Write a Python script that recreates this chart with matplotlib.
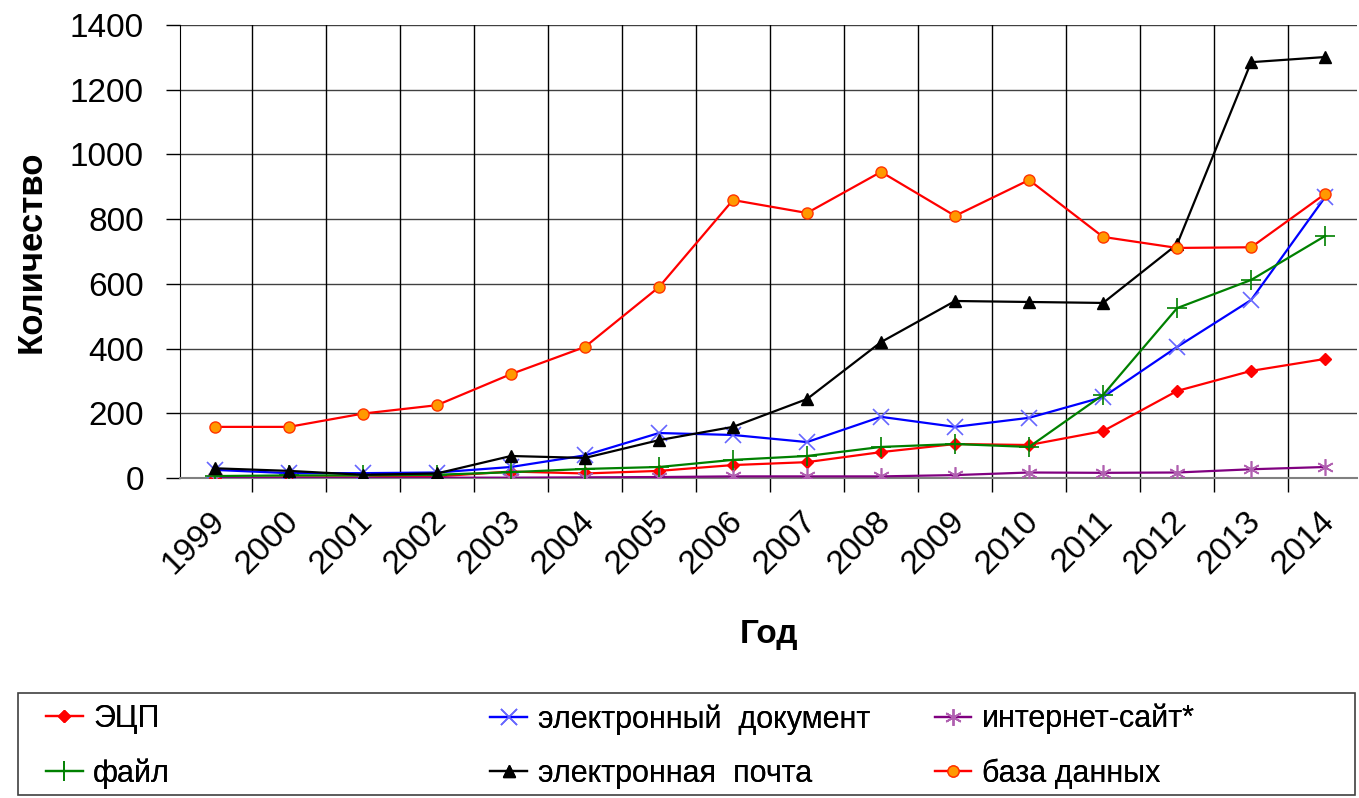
import numpy as np
import matplotlib
matplotlib.use("Agg")
import matplotlib.pyplot as plt
from matplotlib.patches import Rectangle
from matplotlib.transforms import ScaledTranslation

plt.rcParams['font.family'] = ['Liberation Sans', 'DejaVu Sans']

years = ['1999', '2000', '2001', '2002', '2003', '2004', '2005', '2006',
         '2007', '2008', '2009', '2010', '2011', '2012', '2013', '2014']

ecp = [0, 2, 2, 5, 20, 14, 22, 40, 49, 80, 105, 102, 145, 269, 331, 368]
el_doc = [25, 15, 15, 17, 34, 70, 139, 133, 111, 189, 158, 186, 250, 405, 550, 868]
site = [0, 0, 0, 1, 1, 2, 3, 5, 5, 5, 9, 17, 16, 17, 27, 34]
fayl = [6, 8, 8, 10, 18, 28, 34, 56, 68, 96, 105, 96, 257, 525, 612, 748]
pochta = [30, 22, 10, 14, 68, 62, 117, 158, 244, 420, 547, 544, 541, 722, 1285, 1301]
baza = [158, 158, 199, 225, 321, 405, 590, 859, 819, 946, 810, 921, 745, 711, 713, 878]

fig = plt.figure(figsize=(13.59, 7.98), dpi=100)
ax = fig.add_axes([0.1325, 0.401, 0.866, 0.5677])
x = np.arange(len(years))

l1, = ax.plot(x, ecp, color='#ff0000', lw=1.6, marker='D', ms=6,
              mfc='#ff0000', mec='#ff0000', label='ЭЦП', zorder=3)
l2, = ax.plot(x, el_doc, color='#0000ff', lw=1.6, marker='x', ms=11,
              mec='#6666ff', mew=1.2, label='электронный  документ', zorder=3)
l3, = ax.plot(x, site, color='#800080', lw=1.6, marker=(6, 2, 0), ms=12,
              mec='#b060b0', mew=1.2, label='интернет-сайт*', zorder=3)
l4, = ax.plot(x, fayl, color='#008000', lw=1.6, marker='+', ms=14,
              mec='#008000', mew=1.2, label='файл', zorder=3)
l5, = ax.plot(x, pochta, color='#000000', lw=1.6, marker='^', ms=8,
              mfc='#000000', label='электронная  почта', zorder=3)
l6, = ax.plot(x, baza, color='#ff0000', lw=1.6, marker='o', ms=8,
              mfc='#ff9900', mec='#ff3300', mew=1.0, label='база данных', zorder=3)

ax.set_xlim(-0.47, 15.43)
ax.set_ylim(0, 1400)
ax.set_yticks(np.arange(0, 1401, 200))
ax.set_xticks(x)
ax.set_xticklabels(years, rotation=45, ha='right', va='top', rotation_mode='anchor')
ax.set_xticks(np.arange(0.5, 15.5, 1), minor=True)
ax.tick_params(axis='x', which='major', length=0, labelsize=24, pad=20)
ax.tick_params(axis='x', which='minor', length=10, color='black', width=1)
ax.tick_params(axis='y', labelsize=24, length=10, width=1, pad=16)
shift = ScaledTranslation(-6 / 100, 0, fig.dpi_scale_trans)
for lab in ax.get_xticklabels():
    lab.set_transform(lab.get_transform() + shift)

ax.grid(axis='y', which='major', color='#000000', lw=1, alpha=0.75)
ax.grid(axis='x', which='minor', color='#000000', lw=1)
for s in ['top', 'right']:
    ax.spines[s].set_visible(False)
ax.spines['left'].set_color('black')
ax.spines['bottom'].set_color('#808080')
ax.spines['bottom'].set_linewidth(1.5)

ax.set_ylabel('Количество', fontsize=25, fontweight='bold', labelpad=16)
ax.set_xlabel('Год', fontsize=24, fontweight='bold', labelpad=28)

# legend box with three columns placed separately
fig.patches.append(Rectangle((18 / 1359, 3 / 798), 1337 / 1359, 102 / 798,
                             transform=fig.transFigure, fill=False,
                             edgecolor='#404040', lw=1.2))
cols = [([l1, l4], 0.018), ([l2, l5], 0.345), ([l3, l6], 0.672)]
for hs, xpos in cols:
    leg = fig.legend(handles=hs, loc='center left', bbox_to_anchor=(xpos, 0.0645),
                     frameon=False, fontsize=22, handlelength=1.2,
                     handletextpad=0.35, labelspacing=0.8, borderaxespad=0.3)
    fig.add_artist(leg)

fig.savefig('out.png', dpi=100)
